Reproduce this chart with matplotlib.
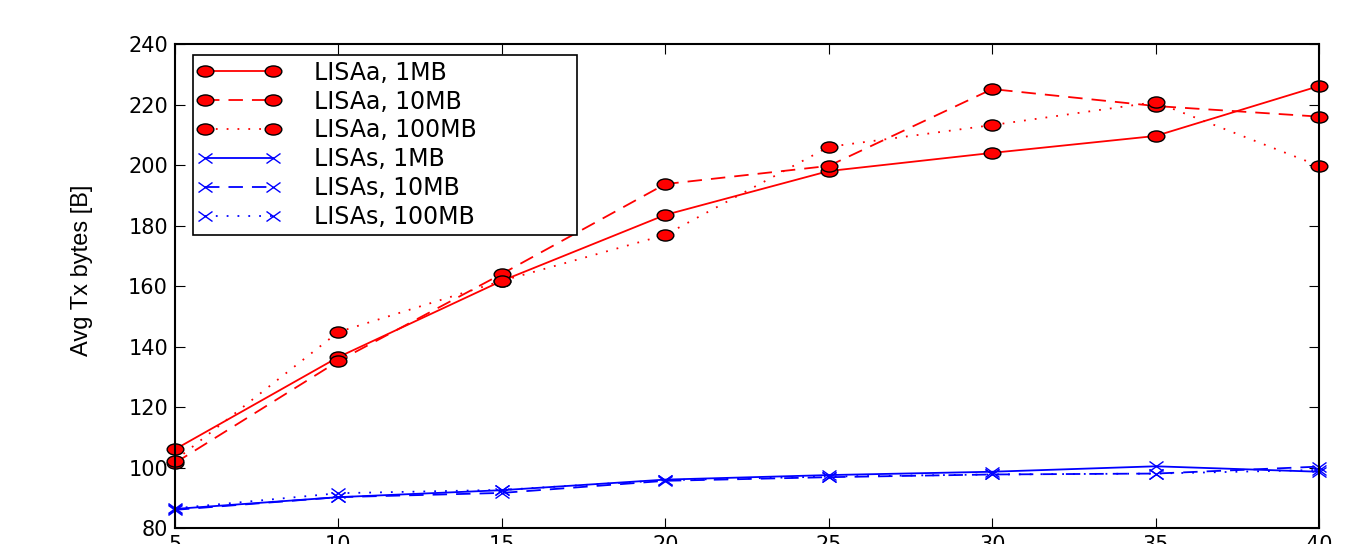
import numpy as np
import matplotlib
matplotlib.use('Agg')
import matplotlib.pyplot as plt
from matplotlib.markers import MarkerStyle
from matplotlib.transforms import Affine2D

#Values
x = [5, 10, 15, 20, 25, 30, 35, 40]
lisaa_1mb = [106.0, 136.5, 161.7, 183.5, 198.0, 204.0, 209.6, 226.1]
lisaa_10mb = [101.5, 135.2, 164.0, 193.7, 199.7, 225.1, 219.5, 216.0]
lisaa_100mb = [102.3, 144.8, 161.7, 176.9, 206.0, 213.2, 220.8, 199.7]
lisas_1mb = [86.3, 90.2, 92.5, 96.0, 97.5, 98.6, 100.4, 98.6]
lisas_10mb = [86.0, 90.2, 91.6, 95.6, 96.8, 97.7, 98.0, 100.3]
lisas_100mb = [86.5, 91.5, 92.6, 95.8, 97.0, 97.7, 98.0, 99.2]

yticks = [80, 100, 120, 140, 160, 180, 200, 220, 240]
xticks = [5, 10, 15, 20, 25, 30, 35, 40]

#Stretched markers, the original picture is wider than it was drawn
circ = MarkerStyle('o', transform=Affine2D().scale(1.5, 1.0))
cross = MarkerStyle('x', transform=Affine2D().scale(1.4, 1.0))

dashed = (0, (8, 5))
dotted = (0, (1, 5))

fig = plt.figure(figsize=(13.53, 5.44), dpi=100)
ax = fig.add_axes([0.1293, 0.0294, 0.8456, 0.8897])

red_kw = dict(color='red', marker=circ, markersize=8, markerfacecolor='red',
              markeredgecolor='black', markeredgewidth=1.0, linewidth=1.3, clip_on=False)
blue_kw = dict(color='blue', marker=cross, markersize=7.5, markeredgecolor='blue',
               markeredgewidth=1.0, linewidth=1.3, clip_on=False)

ax.plot(x, lisaa_1mb, linestyle='-', label='LISAa, 1MB', **red_kw)
ax.plot(x, lisaa_10mb, linestyle=dashed, label='LISAa, 10MB', **red_kw)
ax.plot(x, lisaa_100mb, linestyle=dotted, label='LISAa, 100MB', **red_kw)
ax.plot(x, lisas_1mb, linestyle='-', label='LISAs, 1MB', **blue_kw)
ax.plot(x, lisas_10mb, linestyle=dashed, label='LISAs, 10MB', **blue_kw)
ax.plot(x, lisas_100mb, linestyle=dotted, label='LISAs, 100MB', **blue_kw)

ax.set_xlim(5, 40)
ax.set_ylim(80, 240)
ax.set_xticks(xticks)
ax.set_yticks(yticks)
ax.tick_params(direction='in', length=7, width=0.8, top=True, right=True,
               labelsize=15, pad=5)
for sp in ax.spines.values():
    sp.set_linewidth(1.5)

ax.set_ylabel('Avg Tx bytes [B]', fontsize=17,
              family=['Liberation Sans', 'DejaVu Sans'])
ax.yaxis.set_label_coords(-0.072, 0.533)

leg = ax.legend(loc='upper left', bbox_to_anchor=(0.0157, 0.607, 0.3357, 0.370),
                mode='expand', borderaxespad=0, fontsize=17, numpoints=2,
                handlelength=3.45, handletextpad=1.45, labelspacing=0.21,
                borderpad=0.23, fancybox=False, framealpha=1)
leg.get_frame().set_edgecolor('black')
leg.get_frame().set_linewidth(1.2)

fig.savefig('out.png', dpi=100, facecolor='white')
